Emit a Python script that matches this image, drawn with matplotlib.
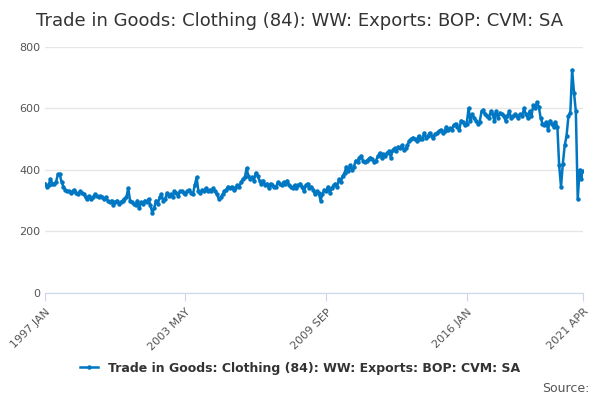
import numpy as np
import pandas as pd
import matplotlib
matplotlib.use("Agg")
import matplotlib.pyplot as plt

# monthly values
y1997 = [355, 345, 350, 370, 355, 355, 360, 385, 385, 360, 345, 335]
y1998 = [330, 330, 325, 330, 335, 325, 320, 330, 325, 320, 310, 305]
y1999 = [315, 305, 310, 320, 315, 310, 315, 310, 305, 310, 300, 295]
y2000 = [300, 285, 295, 300, 290, 295, 300, 305, 310, 340, 300, 295]
y2001 = [290, 285, 300, 275, 295, 290, 300, 295, 305, 285, 260, 275]
y2002 = [300, 290, 310, 320, 300, 305, 325, 315, 320, 310, 330, 325]
y2003 = [315, 330, 330, 325, 320, 330, 335, 325, 320, 350, 375, 330]
y2004 = [325, 335, 330, 340, 330, 335, 330, 340, 330, 320, 305, 310]
y2005 = [320, 330, 335, 345, 340, 345, 335, 340, 350, 345, 360, 370]
y2006 = [375, 405, 380, 370, 375, 365, 390, 380, 365, 355, 365, 350]
y2007 = [355, 340, 355, 350, 345, 345, 360, 355, 350, 360, 355, 365]
y2008 = [350, 345, 340, 350, 340, 350, 355, 345, 330, 350, 355, 340]
y2009 = [345, 335, 320, 330, 325, 300, 320, 335, 330, 345, 325, 340]
y2010 = [350, 355, 345, 370, 360, 380, 390, 410, 395, 415, 400, 410]
y2011 = [430, 425, 440, 445, 430, 425, 430, 435, 440, 435, 425, 430]
y2012 = [445, 455, 440, 450, 445, 455, 460, 440, 465, 470, 460, 475]
y2013 = [470, 480, 465, 470, 480, 495, 500, 505, 500, 495, 510, 500]
y2014 = [500, 520, 505, 510, 520, 510, 505, 515, 520, 525, 530, 520]
y2015 = [525, 540, 530, 535, 530, 545, 550, 540, 530, 560, 555, 545]
y2016 = [550, 600, 560, 580, 570, 560, 550, 555, 590, 595, 580, 575]
y2017 = [570, 590, 580, 560, 590, 570, 585, 580, 575, 560, 575, 590]
y2018 = [570, 575, 580, 575, 570, 580, 575, 600, 580, 570, 590, 575]
y2019 = [610, 600, 620, 605, 570, 550, 545, 555, 530, 560, 550, 540]
y2020 = [555, 540, 415, 345, 420, 480, 510, 575, 585, 725, 650, 590]
y2021 = [305, 400, 370, 395]

values = (y1997 + y1998 + y1999 + y2000 + y2001 + y2002 + y2003 + y2004 + y2005
          + y2006 + y2007 + y2008 + y2009 + y2010 + y2011 + y2012 + y2013 + y2014
          + y2015 + y2016 + y2017 + y2018 + y2019 + y2020 + y2021)
dates = pd.date_range("1997-01-01", periods=len(values), freq="MS")

tick_dates = pd.to_datetime(["1997-01-01", "2003-05-01", "2009-09-01", "2016-01-01", "2021-04-01"])
tick_labels = ["1997 JAN", "2003 MAY", "2009 SEP", "2016 JAN", "2021 APR"]
label = "Trade in Goods: Clothing (84): WW: Exports: BOP: CVM: SA"

color = "#0077c2"
fig = plt.figure(figsize=(6, 4), dpi=100)
ax = fig.add_axes([0.075, 0.268, 0.897, 0.615])
ax.plot(dates, values, color=color, lw=1.8, marker="o", ms=2.2, label=label)

ax.set_ylim(0, 800)
ax.set_yticks([0, 200, 400, 600, 800])
ax.set_xlim(dates[0], dates[-1])
ax.set_xticks(tick_dates)
ax.set_xticklabels(tick_labels, rotation=45, ha="right", rotation_mode="anchor")
ax.tick_params(axis="both", labelsize=8, colors="#555555", length=0)
ax.tick_params(axis="x", length=6, color="#ccd6eb", pad=4)
ax.grid(axis="y", color="#e6e6e6", lw=1)
ax.set_axisbelow(True)
for s in ["top", "right", "left"]:
    ax.spines[s].set_visible(False)
ax.spines["bottom"].set_color("#ccd6eb")

fig.text(0.06, 0.935, "Trade in Goods: Clothing (84): WW: Exports: BOP: CVM: SA",
         fontsize=13, color="#333333")
fig.legend(loc="lower center", bbox_to_anchor=(0.5, 0.035), frameon=False,
           prop={"size": 9, "weight": "bold"}, labelcolor="#333333", handlelength=1.5)
fig.text(0.982, 0.02, "Source:", fontsize=9, color="#555555", ha="right")

fig.savefig("out.png")
